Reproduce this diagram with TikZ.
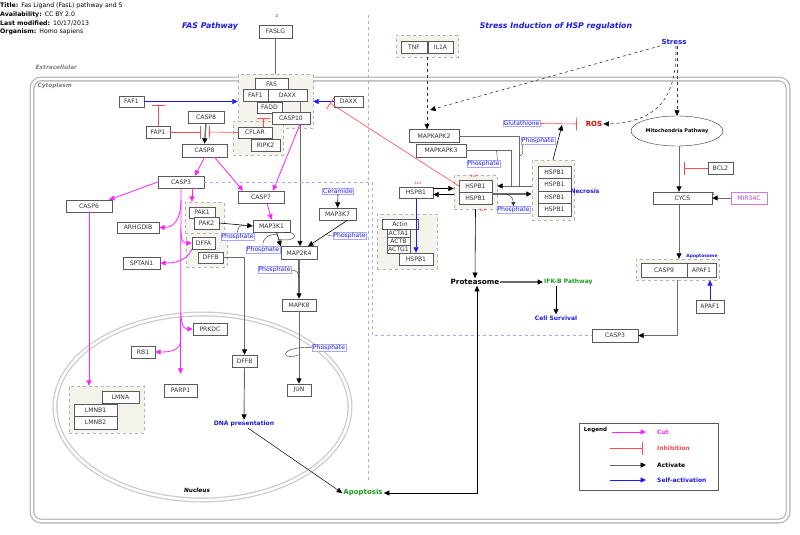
\documentclass[tikz,border=0pt]{standalone}
\usepackage{fontspec}
\setmainfont{DejaVu Sans}
\usetikzlibrary{arrows.meta,positioning,shapes.geometric,calc}

\definecolor{cutc}{HTML}{FF22FF}
\definecolor{inhc}{HTML}{FF4D4D}
\definecolor{actc}{HTML}{6A6A6A}
\definecolor{selfc}{HTML}{1A1AFF}
\definecolor{labc}{HTML}{1A1AE6}
\definecolor{grpc}{HTML}{F4F4EC}
\definecolor{lavc}{HTML}{A8A8FF}
\definecolor{goc}{HTML}{1F9A1F}
\definecolor{mirc}{HTML}{C040C0}

\newcommand\gfont{\fontsize{6.1}{7}\selectfont}
\newcommand\lfont{\fontsize{6}{7}\selectfont\bfseries}
\newcommand\hfont{\fontsize{6.2}{7}\selectfont}
\newcommand\pfont{\fontsize{3.2}{4}\selectfont}

\begin{document}
\begin{tikzpicture}[x=1pt, y=-1pt,
  gene/.style={rectangle, draw=gray!70!black, fill=white, text=black!80, font=\gfont,
               inner sep=0, minimum height=12},
  grp/.style={rectangle, draw=gray!60, dashed, fill=grpc, inner sep=0},
  phos/.style={rectangle, draw=lavc, fill=white, text=labc, font=\gfont, inner sep=0.7},
  lbl/.style={font=\lfont, text=labc, inner sep=1},
  link/.style={draw=actc, line width=0.6},
  act/.style={draw=actc, line width=0.9, -{Triangle[length=5.5pt,width=5pt,color=black]}},
  cut/.style={draw=cutc, line width=0.8, -{Triangle[length=5.5pt,width=5pt]}},
  inh/.style={draw=inhc, line width=0.6, -{Bar[width=13pt,line width=0.8pt]}},
  self/.style={draw=selfc, line width=0.7, -{Triangle[length=5.5pt,width=5pt]}},
  curl/.style={draw=black!80, line width=0.4},
  memb/.style={draw=gray!55, line width=1.3, double=white, double distance=2.4}
]
\useasboundingbox (0,0) rectangle (800,535);
\fill[white] (0,0) rectangle (800,535);

\node[anchor=west, font=\hfont, inner sep=0] (hd1) at (0,6) {\textbf{Title:}\enspace Fas Ligand (FasL) pathway and S};
\node[anchor=west, font=\hfont, inner sep=0] (hd2) at (0,15) {\textbf{Availability:}\enspace CC BY 2.0};
\node[anchor=west, font=\hfont, inner sep=0] (hd3) at (0,23.5) {\textbf{Last modified:}\enspace 10/17/2013};
\node[anchor=west, font=\hfont, inner sep=0] (hd4) at (0,32) {\textbf{Organism:}\enspace Homo sapiens};

\node[font=\fontsize{7.8}{9}\selectfont\bfseries\itshape, text=labc] (fastitle) at (210,26) {FAS Pathway};
\node[font=\fontsize{7.8}{9}\selectfont\bfseries\itshape, text=labc] (hsptitle) at (556,26) {Stress Induction of HSP regulation};
\node[font=\fontsize{4}{5}\selectfont, text=labc] (two) at (277,16) {2};

\draw[memb, rounded corners=9] (32,79) rectangle (788,521);
\node[anchor=west, font=\fontsize{5.8}{6}\selectfont\bfseries\itshape, text=gray] (extra) at (32,67) {Extracellular};
\node[anchor=west, font=\fontsize{5.8}{6}\selectfont\bfseries\itshape, text=gray] (cyto) at (34,86) {Cytoplasm};
\draw[memb, draw=gray!40] (202.5,407) ellipse [x radius=147.5, y radius=93];
\node[font=\fontsize{5.8}{6}\selectfont\bfseries\itshape] (nucl) at (197,490) {Nucleus};
\draw[gray!60, dashed, line width=0.5] (368,15) -- (368,482);

% groups
\node[grp, minimum width=75, minimum height=54] (fasgrp) at (275.5,101) {};
\node[grp, minimum width=50, minimum height=34] (cflargrp) at (258,138) {};
\node[grp, minimum width=39, minimum height=31] (pakgrp) at (204.5,217.5) {};
\node[grp, minimum width=41, minimum height=34] (dffgrp) at (206.5,250) {};
\node[grp, minimum width=75, minimum height=47] (lmngrp) at (106.5,409.5) {};
\node[grp, minimum width=62, minimum height=22] (tnfgrp) at (427,46) {};
\node[grp, minimum width=43, minimum height=34] (hspgrp) at (475.5,192) {};
\node[grp, minimum width=42, minimum height=60] (hsp4grp) at (553,190) {};
\node[grp, minimum width=60, minimum height=55] (actgrp) at (407,241.5) {};
\node[grp, minimum width=83, minimum height=21] (apopgrp) at (677.5,269.5) {};

% FAS side
\node[gene, minimum width=33, minimum height=13] (faslg) at (275.5,31.5) {FASLG};
\node[gene, minimum width=33] (fas) at (271.5,84) {FAS};
\node[gene, minimum width=25] (faf1in) at (255.5,95) {FAF1};
\node[gene, minimum width=39] (daxxin) at (287.5,95) {DAXX};
\node[gene, minimum width=25, minimum height=11] (fadd) at (269.5,107.5) {FADD};
\node[gene, minimum width=38] (casp10) at (291,118) {CASP10};
\node[gene, minimum width=25, minimum height=11] (faf1) at (131.5,101.5) {FAF1};
\node[gene, minimum width=29, minimum height=11] (daxx) at (348.5,101.5) {DAXX};
\node[gene, minimum width=36] (casp8a) at (206,117) {CASP8};
\node[gene, minimum width=24] (fap1) at (158,132) {FAP1};
\node[gene, minimum width=34, minimum height=11] (cflar) at (255,132.5) {CFLAR};
\node[gene, minimum width=29] (ripk2) at (265.5,145) {RIPK2};
\node[gene, minimum width=45, minimum height=13] (casp8b) at (204.5,150.5) {CASP8};
\node[gene, minimum width=46] (casp3a) at (181,182) {CASP3};
\node[gene, minimum width=46] (casp7) at (261,197) {CASP7};
\node[gene, minimum width=46] (casp6) at (89,206) {CASP6};
\node[gene, minimum width=42, minimum height=11] (arhgdib) at (138,227.5) {ARHGDIB};
\node[gene, minimum width=26, minimum height=11] (pak1) at (202,212.5) {PAK1};
\node[gene, minimum width=25] (pak2) at (206.5,223) {PAK2};
\node[gene, minimum width=23] (dffa) at (203.5,243) {DFFA};
\node[gene, minimum width=25, minimum height=11] (dffbin) at (210.5,257.5) {DFFB};
\node[gene, minimum width=37] (sptan1) at (141.5,263) {SPTAN1};
\node[gene, minimum width=37] (map3k1) at (271.5,226) {MAP3K1};
\node[gene, minimum width=37] (map3k7) at (337.5,214) {MAP3K7};
\node[gene, minimum width=36, minimum height=13] (map2k4) at (299,253) {MAP2K4};
\node[gene, minimum width=34] (mapk8) at (299,305) {MAPK8};
\node[gene, minimum width=24] (jun) at (299,390) {JUN};
\node[gene, minimum width=25] (dffb) at (244.5,361) {DFFB};
\node[gene, minimum width=34] (prkdc) at (210,329) {PRKDC};
\node[gene, minimum width=24] (rb1) at (143,352) {RB1};
\node[gene, minimum width=33, minimum height=13] (parp1) at (180.5,390.5) {PARP1};
\node[gene, minimum width=37] (lmna) at (120.5,397) {LMNA};
\node[gene, minimum width=43] (lmnb1) at (95.5,410) {LMNB1};
\node[gene, minimum width=43, minimum height=13] (lmnb2) at (95.5,422.5) {LMNB2};
\node[phos] (ceramide) at (338,191) {Ceramide};
\node[phos] (ph1) at (237.5,236.5) {Phosphate};
\node[phos] (ph2) at (263,250) {Phosphate};
\node[phos] (ph3) at (349.5,236) {Phosphate};
\node[phos] (ph4) at (274.5,270) {Phosphate};
\node[phos] (ph5) at (329,347.5) {Phosphate};
\node[lbl] (dna) at (244,424) {DNA presentation};
\node[lbl, text=goc, font=\fontsize{7}{8}\selectfont\bfseries] (apoptosis) at (363,493) {Apoptosis};

% HSP side
\node[gene, minimum width=26] (tnf) at (414,47) {TNF};
\node[gene, minimum width=25] (il1a) at (440.5,47) {IL1A};
\node[lbl, font=\fontsize{7}{8}\selectfont\bfseries] (stress) at (674,42) {Stress};
\node[lbl, text=red!90!black, font=\fontsize{7}{8}\selectfont\bfseries] (ros) at (594,124) {ROS};
\node[phos] (glut) at (521.5,123.5) {Glutathione};
\node[ellipse, draw=black!80, fill=white, minimum width=92, minimum height=30, inner sep=0,
      font=\fontsize{5}{6}\selectfont\bfseries] (mito) at (677,131) {Mitochondria Pathway};
\node[gene, minimum width=25] (bcl2) at (720.5,168) {BCL2};
\node[gene, minimum width=59] (cycs) at (682.5,198) {CYCS};
\node[gene, minimum width=36, draw=mirc!70, text=mirc] (mir34c) at (749,198) {MIR34C};
\node[font=\fontsize{4}{5}\selectfont, text=labc, inner sep=0] (one) at (714,194) {1};
\node[lbl, font=\fontsize{4.4}{5}\selectfont\bfseries] (apopto) at (702,256) {Apoptosome};
\node[gene, minimum width=46, minimum height=14] (casp9) at (664,270) {CASP9};
\node[gene, minimum width=29, minimum height=14] (apaf1in) at (701.5,270) {APAF1};
\node[gene, minimum width=28, minimum height=13] (apaf1) at (710,306.5) {APAF1};
\node[gene, minimum width=46, minimum height=13] (casp3b) at (615,335.5) {CASP3};
\node[gene, minimum width=50, minimum height=13] (mapkapk2) at (434,136) {MAPKAPK2};
\node[gene, minimum width=50, minimum height=13] (mapkapk3) at (441,150.5) {MAPKAPK3};
\node[phos] (ph6) at (538,140.5) {Phosphate};
\node[phos] (ph7) at (483.5,163.5) {Phosphate};
\node[phos] (ph8) at (513.5,210) {Phosphate};
\node[gene, minimum width=33] (hspa) at (475.5,186) {HSPB1};
\node[gene, minimum width=33] (hspb) at (475.5,198) {HSPB1};
\node[gene, minimum width=34, minimum height=11] (hsp1) at (416,192.5) {HSPB1};
\node[gene, minimum width=33, minimum height=12.5] (hsp41) at (554.5,172) {HSPB1};
\node[gene, minimum width=33, minimum height=12.5] (hsp42) at (554.5,184.5) {HSPB1};
\node[gene, minimum width=33, minimum height=12.5] (hsp43) at (554.5,197) {HSPB1};
\node[gene, minimum width=33, minimum height=12.5] (hsp44) at (554.5,209.5) {HSPB1};
\node[text=red, font=\pfont, inner sep=0] (p1) at (474,176.5) {3x-P};
\node[text=red, font=\pfont, inner sep=0] (p2) at (483,210) {3x-P};
\node[text=red, font=\pfont, inner sep=0] (p3) at (418,183) {3x-P};
\node[lbl] (necrosis) at (585,191) {Necrosis};
\node[gene, minimum width=36, minimum height=10] (actin) at (400,224) {Actin};
\node[gene, minimum width=23, minimum height=8] (acta1) at (398.5,233) {ACTA1};
\node[gene, minimum width=23, minimum height=8] (actb) at (398.5,241) {ACTB};
\node[gene, minimum width=23, minimum height=8] (actg1) at (398.5,249) {ACTG1};
\node[gene, minimum width=34] (hspact) at (416,259) {HSPB1};
\node[font=\fontsize{7.2}{8}\selectfont\bfseries, inner sep=1] (proteasome) at (475,282) {Proteasome};
\node[lbl, text=goc, anchor=west] (ifkb) at (543,282) {IFK-B Pathway};
\node[lbl] (survival) at (556,318) {Cell Survival};

% legend
\node[draw=gray!70!black, minimum width=139, minimum height=67, inner sep=0] (legend) at (648.5,456.5) {};
\node[font=\fontsize{5.6}{6}\selectfont\bfseries, inner sep=0] (lgtitle) at (595.5,430) {Legend};
\node[lbl, text=cutc, anchor=west] (lgcut) at (656,432) {Cut};
\node[lbl, text=inhc, anchor=west] (lginh) at (656,448) {Inhibition};
\node[lbl, text=black, anchor=west] (lgact) at (656,465) {Activate};
\node[lbl, anchor=west] (lgself) at (656,480) {Self-activation};
\draw[cut] ([xshift=-44]lgcut.west) -- ([xshift=-10]lgcut.west);
\draw[inh] ([xshift=-46]lginh.west) -- ([xshift=-13]lginh.west);
\draw[act] ([xshift=-46]lgact.west) -- ([xshift=-10]lgact.west);
\draw[self] ([xshift=-46]lgself.west) -- ([xshift=-10]lgself.west);

% coordinates
\coordinate (daxxinh) at (330,103);
\coordinate (faf1inh) at (158,105);
\coordinate (c8inh1) at (201,132);
\coordinate (c8inh2) at (209,132);
\coordinate (faddinh) at (263,118);
\coordinate (v1) at (181,200);
\coordinate (v2) at (181,232);
\coordinate (v3) at (181,313);
\coordinate (v4) at (181,338);
\coordinate (lavturn) at (372,335.5);
\coordinate (strend) at (430,110);
\coordinate (rosinh) at (577,124);
\coordinate (rosarr) at (562,125);
\coordinate (bclinh) at (684,168);
\coordinate (k2end) at (519,186);
\coordinate (k3end) at (511,186);

% FAS edges
\draw[link] (faslg.south) -- (fasgrp.north);
\draw[link] ([xshift=12.5]daxxin.south) -- ([xshift=9]casp10.north);
\draw[self] (faf1.east) -- (faf1 -| fasgrp.west);
\draw[self] (daxx.west) -- (daxx -| fasgrp.east);
\draw[inh] (hspa.west) -- (daxxinh);
\draw[inh] (fap1.north) -- (faf1inh);
\draw[act, line width=1.3] (casp8a.south) -- (casp8b.north);
\draw[inh] (fap1.east) -- (c8inh1);
\draw[inh] (cflar.west) -- (c8inh2);
\draw[inh] ([xshift=8]cflar.north) -- (faddinh);
\draw[cut] (casp8b.south) -- ([xshift=14]casp3a.north);
\draw[cut] ([xshift=10]casp8b.south) -- ([xshift=-18]casp7.north);
\draw[cut] ([xshift=9]casp10.south) -- ([xshift=12]casp7.north);
\draw[act] ([xshift=9]casp10.south) -- ([xshift=1]map2k4.north);
\draw[cut] (casp3a.west) -- ([xshift=20]casp6.north);
\draw[cut] (casp6.south) -- (casp6.south |- lmngrp.north);
\draw[cut] (casp3a.south) -- ([yshift=10]parp1.north);
\draw[cut] ([xshift=11]casp3a.south) -- ([xshift=-12.5]pakgrp.north);
\draw[cut] (v1) .. controls (181,222) and (172,227.5) .. (arhgdib.east);
\draw[cut] (v2) .. controls (181,243) and (185,243) .. (dffa.west);
\draw[cut] (dffa.south west) .. controls (187,262) and (172,263) .. (sptan1.east);
\draw[cut] (v3) .. controls (181,329) and (186,329) .. (prkdc.west);
\draw[cut] (v4) .. controls (181,351) and (170,352) .. (rb1.east);
\draw[cut] ([xshift=6]casp7.south) -- (map3k1.north);
\draw[act, draw=black, line width=0.6] (pak2.east) -- (map3k1.west);
\draw[curl] (ph1.north) .. controls +(0,-5) and +(-5,0) .. ($(pak2.east)!0.75!(map3k1.west)$);
\draw[act, draw=black, line width=0.6] ([xshift=5]map3k1.south) -- (map2k4.north west);
\draw[curl] (ph2.north) .. controls (262,238) and (270,233) .. ($([xshift=5]map3k1.south)!0.2!(map2k4.north west)$);
\draw[curl] ($([xshift=5]map3k1.south)!0.5!(map2k4.north west)$) .. controls (300,243) and (298,230) .. (284,233);
\draw[act, draw=black, line width=0.6] (ceramide.south) -- (map3k7.north);
\draw[act, draw=black, line width=0.6] ([xshift=10]map3k7.south) -- ([xshift=9]map2k4.north);
\draw[curl] (ph3.west) .. controls (328,236) and (327,234) .. ($([xshift=10]map3k7.south)!0.55!([xshift=9]map2k4.north)$);
\draw[act, line width=1.2] (map2k4.south) -- (mapk8.north);
\draw[curl] (ph4.east) .. controls (296,270) and (299,273) .. ($(map2k4.south)!0.45!(mapk8.north)$);
\draw[act, line width=0.9] (mapk8.south) -- (jun.north);
\draw[curl] (ph5.west) .. controls (278,346) and (280,362) .. ($(mapk8.south)!0.6!(jun.north)$);
\draw[act] (dffbin.east) -| (dffb.north);
\draw[act] (dffb.south) -- (dna.north);
\draw[act, draw=black, line width=0.5] ([xshift=4]dna.south) -- (apoptosis.west);
\draw[draw=lavc, dashed, line width=0.6] (casp3a.east) -| (lavturn) -- (casp3b.west);

% HSP edges
\draw[act, draw=black!80, line width=0.6, dashed] (tnfgrp.south) -- (tnfgrp.south |- mapkapk2.north);
\draw[act, draw=black!80, line width=0.6, dashed] (stress.south west) -- (strend);
\draw[act, draw=black!80, line width=0.6, dashed] ([xshift=3]stress.south) -- (mito.north);
\draw[act, draw=black!80, line width=0.6, dashed] ([xshift=2]stress.south) .. controls (677,95) and (660,122) .. (ros.east);
\draw[inh] (glut.east) -- (rosinh);
\draw[act, draw=black, line width=0.6] (hsp4grp.north) -- (rosarr);
\draw[act, line width=0.7] ([xshift=2]mito.south) -- ([xshift=2]mito.south |- cycs.north);
\draw[inh] (bcl2.west) -- (bclinh);
\draw[act, line width=0.7] (mir34c.west) -- (cycs.east);
\draw[act, line width=0.7] ([xshift=2]mito.south |- cycs.south) -- ([xshift=2]mito.south |- apopgrp.north);
\draw[self] (apaf1.north) -- (apaf1.north |- apopgrp.south);
\draw[act, line width=0.7] (apopgrp.south) |- (casp3b.east);
\draw[link] (mapkapk2.east) -| (k2end);
\draw[link] (mapkapk3.east) -| (k3end);
\draw[curl] ([xshift=1]ph6.south west) .. controls (524,153) and (522,156) .. ($(mapkapk2.east -| k2end)!0.4!(k2end)$);
\draw[curl] ([xshift=-3]ph7.north east) .. controls (497,156) and (497,152) .. ($(mapkapk3.east)!0.67!(mapkapk3.east -| k3end)$);
\draw[act, line width=0.9] (hsp4grp.west |- hspa.east) -- (hspgrp.east |- hspa.east);
\draw[act, line width=0.6, draw=black] ([yshift=4]hsp1.east) -- ([yshift=4]hsp1.east -| hspgrp.west);
\draw[act, line width=0.6, draw=black] ([yshift=-2]hsp1.east -| hspgrp.west) -- ([yshift=-2]hsp1.east);
\draw[act, line width=1.2] ([yshift=4]hspb.east) -- ([yshift=4]hspb.east -| hsp4grp.west);
\draw[curl, -{Triangle[length=4pt,width=4pt]}] ($([yshift=4]hspb.east)!0.25!([yshift=4]hspb.east -| hsp4grp.west)$) .. controls (509,194) and (513,196) .. (ph8.north);
\draw[self] (hsp1.south) -- (hspact.north);
\draw[act, draw=black, line width=0.6] (hspgrp.south) -- (proteasome.north);
\draw[act, draw=black, line width=0.6, {Triangle[length=5.5pt,width=5pt]}-{Triangle[length=5.5pt,width=5pt]}] (apoptosis.east) -| ([xshift=2]proteasome.south);
\draw[act, line width=1.3] (proteasome.east) -- (ifkb.west);
\draw[act, draw=black, line width=0.6] (ifkb.south -| survival.north) -- (survival.north);
\end{tikzpicture}
\end{document}
